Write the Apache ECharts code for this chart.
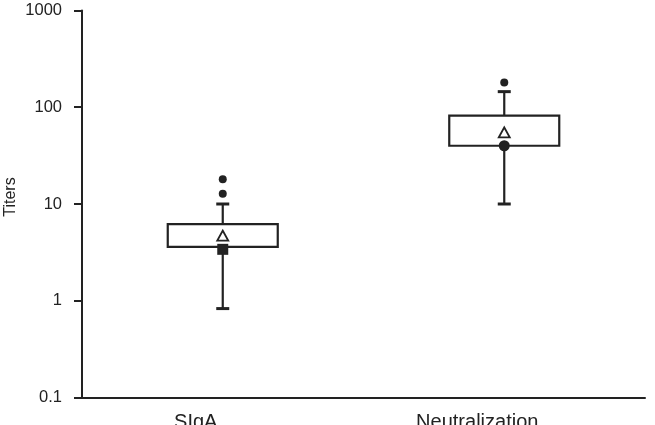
<!DOCTYPE html>
<html>
<head>
<meta charset="utf-8">
<script src="https://cdn.jsdelivr.net/npm/echarts@6/dist/echarts.min.js"></script>
<style>
    html, body { margin: 0; padding: 0; background: #fff; }
    #chart { width: 655px; height: 425px; }
</style>
</head>
<body>
<div id="chart"></div>
<script>
var categories = ['SIgA', 'Neutralization'];
var whiskerLow = [0.83, 10];
var boxLow = [3.6, 40];
var boxHigh = [6.2, 82];
var whiskerHigh = [10, 145];
var medians = [3.4, 40];
var medianSymbols = ['rect', 'circle'];
var means = [4.7, 55];
var outliers = [[0, 18], [0, 12.8], [1, 180]];

var ink = '#222';

var boxData = [];
categories.forEach(function (c, i) {
    boxData.push([i, whiskerLow[i], boxLow[i], boxHigh[i], whiskerHigh[i]]);
});

var medianData = [];
medians.forEach(function (v, i) {
    medianData.push({ value: [i, v], symbol: medianSymbols[i] });
});

var meanData = [];
means.forEach(function (v, i) {
    meanData.push([i, v]);
});

function renderBox(params, api) {
    var i = api.value(0);
    var x = api.coord([i, api.value(1)])[0];
    var yWL = api.coord([i, api.value(1)])[1];
    var yQ1 = api.coord([i, api.value(2)])[1];
    var yQ3 = api.coord([i, api.value(3)])[1];
    var yWH = api.coord([i, api.value(4)])[1];
    var half = 55, cap = 6.5;
    var ls = { stroke: ink, lineWidth: 2.2 };
    return {
        type: 'group',
        children: [
            { type: 'line', shape: { x1: x, y1: yQ3, x2: x, y2: yWH }, style: ls },
            { type: 'line', shape: { x1: x - cap, y1: yWH, x2: x + cap, y2: yWH }, style: { stroke: ink, lineWidth: 3 } },
            { type: 'line', shape: { x1: x, y1: yQ1, x2: x, y2: yWL }, style: ls },
            { type: 'line', shape: { x1: x - cap, y1: yWL, x2: x + cap, y2: yWL }, style: { stroke: ink, lineWidth: 3 } },
            { type: 'rect', shape: { x: x - half, y: yQ3, width: half * 2, height: yQ1 - yQ3 },
              style: { fill: '#fff', stroke: ink, lineWidth: 2.2 } }
        ]
    };
}

var myChart = echarts.init(document.getElementById('chart'));
var option = {
    animation: false,
    grid: { left: 82, right: 10, top: 10.5, bottom: 27.5, outerBoundsMode: 'none', containLabel: false },
    xAxis: {
        type: 'category',
        data: categories,
        axisLine: { lineStyle: { color: ink, width: 2 } },
        axisTick: { show: false },
        axisLabel: {
            color: '#222',
            fontFamily: 'Liberation Sans',
            fontSize: 20,
            margin: 15,
            padding: [0, 54, 0, 0]
        }
    },
    yAxis: {
        type: 'log',
        logBase: 10,
        min: 0.1,
        max: 1000,
        name: 'Titers',
        nameLocation: 'middle',
        nameGap: 63,
        nameMoveOverlap: false,
        nameTextStyle: {
            color: '#222',
            fontFamily: 'Liberation Sans',
            fontSize: 16,
            padding: [0, 0, 0, 14]
        },
        axisLine: { show: true, lineStyle: { color: ink, width: 2 } },
        axisTick: { show: true, length: 8, lineStyle: { color: ink, width: 2 } },
        axisLabel: {
            color: '#222',
            fontFamily: 'Liberation Sans',
            fontSize: 16.5,
            margin: 20,
            formatter: function (v) { return String(v); }
        },
        splitLine: { show: false }
    },
    series: [
        {
            type: 'custom',
            renderItem: renderBox,
            data: boxData,
            z: 2
        },
        {
            type: 'scatter',
            data: medianData,
            symbolSize: 11,
            itemStyle: { color: ink, opacity: 1 },
            z: 3
        },
        {
            type: 'scatter',
            data: meanData,
            symbol: 'triangle',
            symbolSize: [11, 10],
            itemStyle: { color: '#fff', borderColor: ink, borderWidth: 1.8, opacity: 1 },
            z: 3
        },
        {
            type: 'scatter',
            data: outliers,
            symbolSize: 8,
            itemStyle: { color: ink, opacity: 1 },
            z: 3
        }
    ]
};
myChart.setOption(option);
</script>
</body>
</html>
